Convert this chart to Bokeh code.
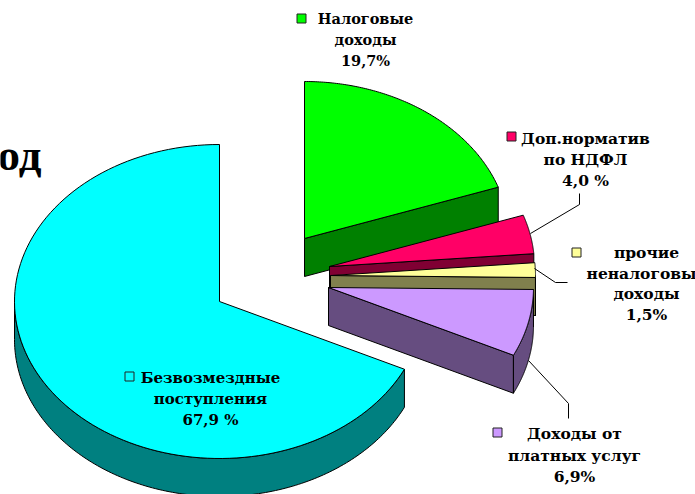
import numpy as np
from bokeh.plotting import figure
from bokeh.embed import file_html
from bokeh.resources import INLINE
from bokeh.core.properties import value

categories = ["Налоговые доходы", "Доп.норматив по НДФЛ", "прочие неналоговые доходы",
              "Доходы от платных услуг", "Безвозмездные поступления"]
shares = [19.7, 4.0, 1.5, 6.9, 67.9]
top_colors = ["#00ff00", "#ff0066", "#ffff99", "#cc99ff", "#00ffff"]
side_colors = ["#008000", "#800033", "#80804d", "#664d80", "#008080"]
centers_x = [304, 329, 330, 328, 219]
centers_y = [238, 266, 275, 287, 301]
label_lines = [["Налоговые", "доходы", "19,7%"],
               ["Доп.норматив", "по НДФЛ", "4,0 %"],
               ["прочие", "неналоговые", "доходы", "1,5%"],
               ["Доходы от", "платных услуг", "6,9%"],
               ["Безвозмездные", "поступления", "67,9 %"]]
label_cx = [365, 585, 646, 574, 210]
label_top = [18, 138, 252, 433, 377]
line_step = [21, 21, 20.7, 21.5, 21]
label_size = ["14.5px", "15.5px", "15.5px", "15.5px", "15px"]
key_x = [301, 511, 576, 497, 129]
key_y = [18, 136, 252, 432, 376]
key_colors = top_colors
leaders = [None,
           ([530, 579, 579], [233, 204, 193]),
           ([534, 555, 567], [268, 282, 282]),
           ([528, 568, 568], [360, 403, 418]),
           None]

RX, RY, DEPTH = 205, 157, 38
FONT = "DejaVu Serif"

p = figure(width=695, height=494, x_range=(0, 695), y_range=(494, 0),
           output_backend="svg", toolbar_location=None, min_border=0,
           outline_line_color=None, background_fill_color="white")
p.margin = (0, 0, 0, 0)
p.xaxis.visible = False
p.yaxis.visible = False
p.grid.visible = False


def pt(cx, cy, t):
    return cx + RX * np.sin(t), cy - RY * np.cos(t)


def face(x, y, fill):
    p.patch(x, y, fill_color=fill, line_color="#000000", line_width=1, line_join="round")


cum = np.cumsum([0] + shares) / sum(shares) * 2 * np.pi
for i in range(len(shares)):
    a0, a1 = cum[i], cum[i + 1]
    cx, cy = centers_x[i], centers_y[i]
    t = np.linspace(a0, a1, 120)
    ax, ay = pt(cx, cy, t)
    if a1 < np.pi:
        ex, ey = pt(cx, cy, a1)
        face([cx, ex, ex, cx], [cy, ey, ey + DEPTH, cy + DEPTH], side_colors[i])
    lo, hi = max(a0, np.pi / 2), min(a1, 3 * np.pi / 2)
    if hi > lo:
        w = np.linspace(lo, hi, 160)
        wx, wy = pt(cx, cy, w)
        face(np.r_[wx, wx[::-1]], np.r_[wy, wy[::-1] + DEPTH], side_colors[i])
    face(np.r_[cx, ax], np.r_[cy, ay], top_colors[i])

for lead in leaders:
    if lead:
        p.line(lead[0], lead[1], line_color="#000000", line_width=1)

p.text([-3], [154], text=["од"], text_font=value("Liberation Serif"), text_font_style="bold",
       text_font_size="45px", text_color="#000000", text_align="left", text_baseline="middle")

for i, lines in enumerate(label_lines):
    for j, s in enumerate(lines):
        p.text([label_cx[i]], [label_top[i] + j * line_step[i]], text=[s], text_font=value(FONT),
               text_font_style="bold", text_font_size=label_size[i], text_color="#000000",
               text_align="center", text_baseline="middle")
    p.rect([key_x[i]], [key_y[i]], width=9, height=9, fill_color=key_colors[i], line_color="#222222")

open("out.html", "w").write(file_html(p, INLINE))
